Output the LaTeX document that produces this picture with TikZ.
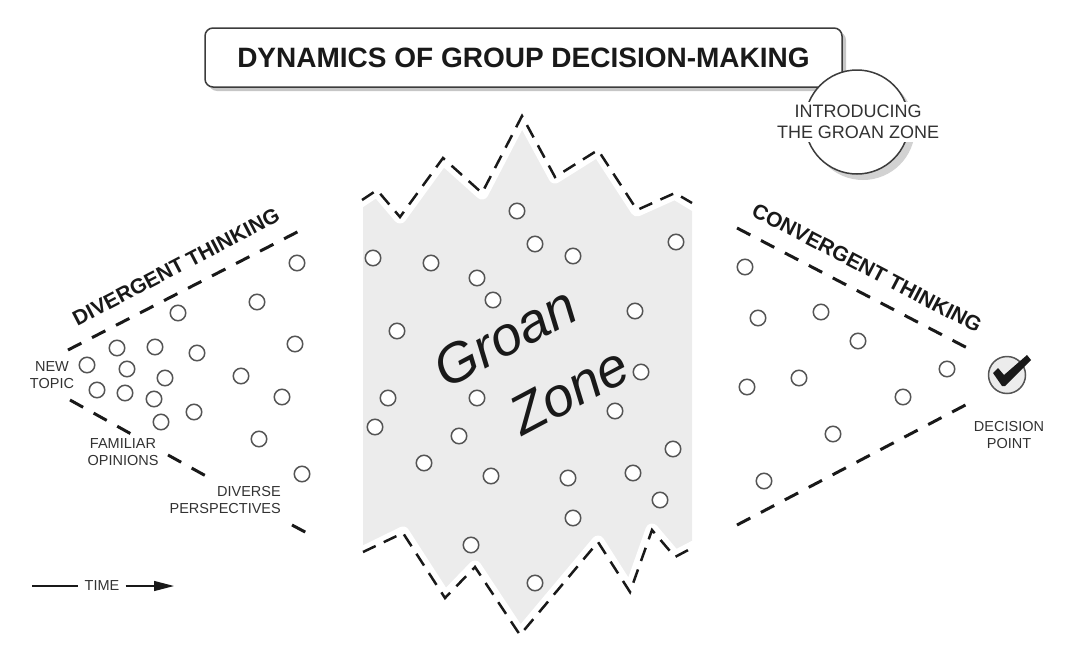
\documentclass[tikz,border=0pt]{standalone}
\usepackage{fontspec}
\setmainfont{Liberation Sans}
\usetikzlibrary{arrows.meta}
\definecolor{zonegray}{RGB}{236,236,236}
\definecolor{ink}{RGB}{25,25,25}
\definecolor{dotgray}{RGB}{85,85,85}
\definecolor{labelgray}{RGB}{50,50,50}
\tikzset{
  dot/.style={circle, draw=dotgray, fill=white, line width=1.5pt, minimum size=15.5pt, inner sep=0pt},
  bound/.style={draw=ink, line width=3pt, dash pattern=on 15pt off 12pt},
  jag/.style={draw=ink, line width=2.5pt, dash pattern=on 14pt off 9pt, line join=miter},
  halo/.style={draw=white, line width=13pt, line join=round},
  lbl/.style={font=\fontsize{14.5}{16.5}\selectfont, text=labelgray, align=center, inner sep=1pt},
  head/.style={font=\bfseries\fontsize{21}{24}\selectfont, text=ink, inner sep=0pt},
}
\begin{document}
\begin{tikzpicture}[x=1pt, y=-1pt]
\useasboundingbox (0,0) rectangle (1089,648);

% ---------- title ----------
\fill[gray!45, rounded corners=8pt] (209,32) rectangle (846,91);
\node[draw=ink!85, line width=1.5pt, fill=white, rounded corners=8pt,
      minimum width=637pt, minimum height=59pt,
      font=\bfseries\fontsize{28}{32}\selectfont, text=ink] (title) at (523.5,57.5)
      {DYNAMICS OF GROUP DECISION-MAKING};

% ---------- intro circle ----------
\fill[gray!35] (863,128) circle (52);
\node[circle, draw=ink!85, fill=white, line width=1.5pt, minimum size=104pt, inner sep=0pt] (intro) at (857,122) {};
\node[font=\fontsize{18}{20.5}\selectfont, text=labelgray, align=center, fill=white, inner xsep=1pt, inner ysep=3pt] (introtext) at (858,122)
      {INTRODUCING\\THE GROAN ZONE};

% ---------- groan zone ----------
\fill[zonegray] (363,200) -- (377,190) -- (400,217) -- (443,158) -- (482,193) -- (522,116)
  -- (555,177) -- (598,150) -- (637,210) -- (675,193) -- (692,203)
  -- (692,548) -- (675,557) -- (652,530) -- (630,592) -- (598,542) -- (520,635)
  -- (475,567) -- (445,598) -- (403,533) -- (363,552) -- cycle;
\draw[halo] (356,204) -- (377,190) -- (400,217) -- (443,158) -- (482,193) -- (522,116)
  -- (555,177) -- (598,150) -- (637,210) -- (675,193) -- (698,207);
\draw[halo] (356,556) -- (403,533) -- (445,598) -- (475,567) -- (520,635) -- (598,542)
  -- (630,592) -- (652,530) -- (675,557) -- (698,545);
\draw[jag] (362,200) -- (377,190) -- (400,217) -- (443,158) -- (482,193) -- (522,116)
  -- (555,177) -- (598,150) -- (637,210) -- (675,193) -- (692,203);
\draw[jag] (363,552) -- (403,533) -- (445,598) -- (475,567) -- (520,635) -- (598,542)
  -- (630,592) -- (652,530) -- (675,557) -- (692,548);

\foreach \p [count=\i] in {(517,211),(373,258),(431,263),(535,244),(573,256),(676,242),
  (477,278),(493,300),(635,311),(397,331),(641,372),(388,398),(477,398),(375,427),
  (615,411),(459,436),(424,463),(491,476),(568,478),(633,473),(673,449),(660,500),
  (573,518),(471,545),(535,583)}
  \node[dot] (G\i) at \p {};

\node[font=\itshape\fontsize{55}{60}\selectfont, text=ink, rotate=28, inner sep=0pt] (groan) at (505,337) {Groan};
\node[font=\itshape\fontsize{55}{60}\selectfont, text=ink, rotate=28, inner sep=0pt] (zone) at (569,391) {Zone};

% ---------- divergent ----------
\coordinate (du0) at (68,350);
\coordinate (du1) at (307,227);
\coordinate (dla) at (70,400);
\coordinate (dlb) at (133,435);
\coordinate (dlc) at (168,455);
\coordinate (dld) at (206,476);
\coordinate (dle) at (292,525);
\coordinate (dlf) at (307,533);
\draw[bound] (du0) -- (du1);
\draw[bound] (dla) -- (dlb);
\draw[bound] (dlc) -- (dld);
\draw[bound] (dle) -- (dlf);

\node[head, rotate=27.5] (divt) at (176,267) {DIVERGENT THINKING};

\foreach \p [count=\i] in {(297,263),(257,302),(178,313),(295,344),(87,365),(117,348),
  (155,347),(197,353),(127,369),(165,378),(97,390),(125,393),(154,399),(241,376),
  (282,397),(161,422),(194,412),(259,439),(302,474)}
  \node[dot] (L\i) at \p {};

\node[lbl] (newtopic) at (52,375) {NEW\\TOPIC};
\node[lbl] (familiar) at (123,452) {FAMILIAR\\OPINIONS};
\node[lbl, align=right, anchor=east] (diverse) at (282,500) {DIVERSE\\PERSPECTIVES};

% ---------- convergent ----------
\coordinate (cu0) at (737,228);
\coordinate (cu1) at (975,352);
\coordinate (cl0) at (737,525);
\coordinate (cl1) at (975,400);
\draw[bound] (cu0) -- (cu1);
\draw[bound] (cl0) -- (cl1);

\node[head, rotate=-27.5] (convt) at (867,268) {CONVERGENT THINKING};

\foreach \p [count=\i] in {(745,267),(758,318),(821,312),(858,341),(947,369),(747,387),
  (799,378),(903,397),(833,434),(764,481)}
  \node[dot] (R\i) at \p {};

\node[circle, draw=dotgray, fill=zonegray, line width=1.5pt, minimum size=37pt, inner sep=0pt] (dp) at (1007,375) {};
\fill[ink, line join=round] (993,373) -- (998,368) -- (1004,375) -- (1027,355) -- (1031,360) -- (1005,386) -- (1002,386) -- cycle;
\node[lbl] (dptext) at (1009,435) {DECISION\\POINT};

% ---------- time ----------
\node[lbl, inner xsep=6pt] (time) at (102,586) {TIME};
\coordinate (t0) at (32,586);
\coordinate (t1) at (174,586);
\draw[ink, line width=1.3pt] (t0) -- (time.west);
\draw[ink, line width=1.3pt, -{Triangle[length=20pt,width=10pt]}] (time.east) -- (t1);
\end{tikzpicture}
\end{document}
